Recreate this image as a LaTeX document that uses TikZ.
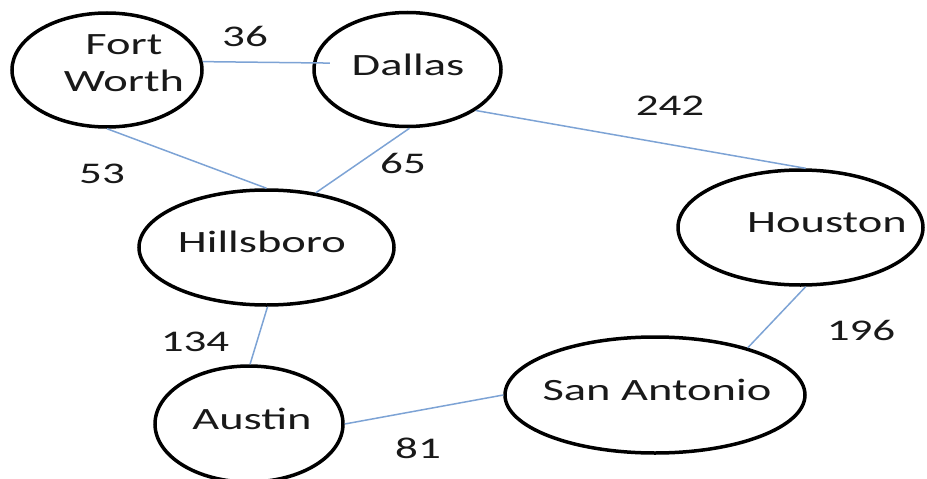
\documentclass[tikz,border=0pt]{standalone}
\usepackage{fontspec}
\setmainfont{Carlito}[FakeStretch=1.5]
\usetikzlibrary{shapes.geometric}
\definecolor{edgeblue}{RGB}{125,163,213}
\definecolor{txt}{RGB}{25,25,25}
\tikzset{
  city/.style={ellipse, draw=black, line width=3.5pt, inner sep=0pt},
  ctext/.style={font=\fontsize{31}{37}\selectfont, text=txt, inner sep=0pt, align=center},
  wlabel/.style={font=\fontsize{30}{36}\selectfont, text=txt, inner sep=0pt, anchor=base},
  road/.style={draw=edgeblue, line width=1.5pt}
}
\begin{document}
\begin{tikzpicture}[x=1pt,y=-1pt]
\useasboundingbox (0,0) rectangle (927,479);
% cities
\node[city, minimum width=190pt, minimum height=114pt] (fw) at (107,70) {};
\node[city, minimum width=187pt, minimum height=114pt] (dal) at (407.5,69.5) {};
\node[city, minimum width=255pt, minimum height=115pt] (hil) at (266.5,247.5) {};
\node[city, minimum width=245pt, minimum height=115pt] (hou) at (800.5,227.5) {};
\node[city, minimum width=188pt, minimum height=116pt] (aus) at (249,424) {};
\node[city, minimum width=300pt, minimum height=116pt] (sa) at (655,395) {};
% city names
\node[ctext] (fwT) at (124,63.5) {Fort\\Worth};
\node[ctext, anchor=base] (dalT) at (408,75) {Dallas};
\node[ctext, anchor=base] (hilT) at (262,252) {Hillsboro};
\node[ctext, anchor=base] (houT) at (827,232) {Houston};
\node[ctext, anchor=base] (saT) at (657,400) {San Antonio};
\node[ctext, anchor=base] (ausT) at (252,429) {Austin};
% roads
\draw[road, shorten >=-17pt] (fw.5) -- (dal.176);
\draw[road] (fw.south) -- (hil.north);
\draw[road] (dal.272) -- (hil.48);
\draw[road] (dal.329) -- (hou.85);
\draw[road] (hil.271) -- (aus.89);
\draw[road] (hou.275) -- (sa.27);
\draw[road] (aus.east) -- (sa.west);
% distances
\node[wlabel] (l36) at (245,46) {36};
\node[wlabel] (l242) at (670,115) {242};
\node[wlabel] (l53) at (102,183) {53};
\node[wlabel] (l65) at (403,173) {65};
\node[wlabel] (l134) at (195,351) {134};
\node[wlabel] (l196) at (861,340) {196};
\node[wlabel] (l81) at (418,458) {81};
\end{tikzpicture}
\end{document}
